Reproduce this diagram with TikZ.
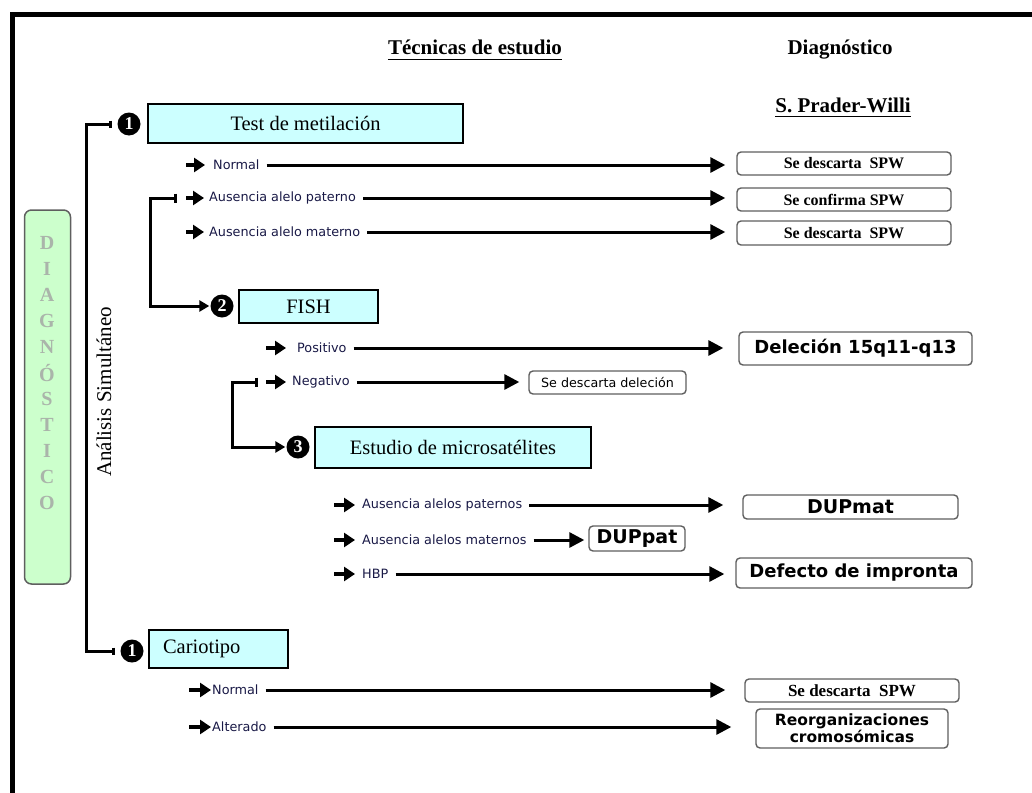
\documentclass[tikz,border=0pt]{standalone}
\usepackage{fontspec}
\setmainfont{Liberation Serif}
\newfontfamily\dv{DejaVu Sans}
\usetikzlibrary{arrows.meta}
\definecolor{cyanbox}{RGB}{204,255,255}
\definecolor{greenbox}{RGB}{204,255,204}
\definecolor{navy}{RGB}{25,25,70}
\definecolor{letter}{RGB}{170,180,170}
\definecolor{rbord}{RGB}{95,95,95}
\begin{document}
\begin{tikzpicture}[x=1pt,y=-1pt,
  tech/.style={draw=black,line width=2pt,fill=cyanbox,inner sep=0pt,font=\fontsize{20.5}{24}\selectfont},
  res/.style={draw=rbord,line width=1.4pt,rounded corners=4pt,fill=white,inner sep=0pt,align=center},
  resT/.style={res,font=\bfseries\fontsize{16}{19}\selectfont},
  resV/.style={res,font=\dv\bfseries\fontsize{18}{21}\selectfont},
  lab/.style={anchor=west,inner sep=0pt,text=navy,font=\dv\fontsize{12.8}{15}\selectfont},
  num/.style={circle,fill=black,text=white,inner sep=0pt,minimum size=23pt,font=\bfseries\fontsize{18}{18}\selectfont},
  conn/.style={line width=3pt,-{Triangle[length=15pt,width=15pt]},shorten <=7pt},
  brk/.style={line width=3pt},
  ico/.style={line width=4pt,-{Triangle[length=11pt,width=14pt]}},
  head/.style={inner sep=0pt,anchor=base,font=\bfseries\fontsize{21}{25}\selectfont},
  ul/.style={line width=1.6pt},
]
\useasboundingbox (0,0) rectangle (1032,792);
\begin{scope}
\clip (0,0) rectangle (1032,792);
\draw[line width=4.5pt] (12.5,14.5) rectangle (1060,820);
\end{scope}

% headers
\node[head] (hT) at (475,55) {Técnicas de estudio};
\draw[ul] ([yshift=-4.5pt]hT.base west) -- ([yshift=-4.5pt]hT.base east);
\node[head] (hD) at (840,55) {Diagnóstico};
\node[head] (hS) at (843,112) {S. Prader-Willi};
\draw[ul] ([yshift=-4.5pt]hS.base west) -- ([yshift=-4.5pt]hS.base east);

% green side box
\node[draw=rbord,line width=1.5pt,fill=greenbox,rounded corners=7pt,minimum width=46pt,minimum height=374pt,inner sep=0pt] (gb) at (47.5,397) {};
\foreach \l [count=\i from 0] in {D,I,A,G,N,Ó,S,T,I,C,O}
  \node[inner sep=0pt,text=letter,font=\bfseries\fontsize{20}{20}\selectfont] (g\i) at (47,243+26*\i) {\l};

% simultaneous analysis
\node[rotate=90,inner sep=0pt,font=\fontsize{21}{25}\selectfont] (as) at (104,392) {Análisis Simultáneo};

% numbers
\node[num] (c1a) at (129,124) {1};
\node[num] (c2) at (222,306) {2};
\node[num] (c3) at (298,447) {3};
\node[num] (c1b) at (132,651) {1};

% technique boxes
\node[tech,minimum width=315pt,minimum height=39pt] (tm) at (305.5,123.5) {Test de metilación};
\node[tech,minimum width=139pt,minimum height=33pt] (fi) at (308.5,306.5) {FISH};
\node[tech,minimum width=276pt,minimum height=41pt] (em) at (453,447.5) {Estudio de microsatélites};
\node[tech,anchor=west,minimum height=38pt,text width=111pt,align=left,inner xsep=14pt] (ca) at (148,649) {Cariotipo};

% top bracket
\draw[brk,{Bar[width=7pt]}-{Bar[width=7pt]},shorten <=5pt,shorten >=5pt] (c1a.west) -- ++(-31,0) |- (c1b.west);

% labels
\node[lab] (l1) at (213,165) {Normal};
\node[lab] (l2) at (209,198) {Ausencia alelo paterno};
\node[lab] (l3) at (209,232) {Ausencia alelo materno};
\node[lab] (l4) at (297,348) {Positivo};
\node[lab] (l5) at (292,382) {Negativo};
\node[lab] (l6) at (362,505) {Ausencia alelos paternos};
\node[lab] (l7) at (362,540) {Ausencia alelos maternos};
\node[lab] (l8) at (362,574) {HBP};
\node[lab] (l9) at (212,690) {Normal};
\node[lab] (l10) at (212,727) {Alterado};

% icons
\draw[ico] ([xshift=-27pt]l1.west) -- ([xshift=-8pt]l1.west);
\draw[ico] ([xshift=-23pt]l2.west) -- ([xshift=-5pt]l2.west);
\draw[ico] ([xshift=-23pt]l3.west) -- ([xshift=-5pt]l3.west);
\draw[ico] ([xshift=-31pt]l4.west) -- ([xshift=-11pt]l4.west);
\draw[ico] ([xshift=-26pt]l5.west) -- ([xshift=-6pt]l5.west);
\draw[ico] ([xshift=-28pt]l6.west) -- ([xshift=-7pt]l6.west);
\draw[ico] ([xshift=-28pt]l7.west) -- ([xshift=-7pt]l7.west);
\draw[ico] ([xshift=-28pt]l8.west) -- ([xshift=-7pt]l8.west);
\draw[ico] ([xshift=-23pt]l9.west) -- ([xshift=-1pt]l9.west);
\draw[ico] ([xshift=-23pt]l10.west) -- ([xshift=-1pt]l10.west);

% result boxes
\node[resT,minimum width=214pt,minimum height=23pt] (r1) at (844,163.5) {Se descarta~~SPW};
\node[resT,minimum width=214pt,minimum height=23pt] (r2) at (844,199.5) {Se confirma SPW};
\node[resT,minimum width=214pt,minimum height=24pt] (r3) at (844,233) {Se descarta~~SPW};
\node[resV,minimum width=233pt,minimum height=33pt] (r4) at (855.5,348.5) {Deleción 15q11-q13};
\node[res,font=\dv\fontsize{12.7}{15}\selectfont,minimum width=157pt,minimum height=23pt] (r5) at (607.5,382.5) {Se descarta deleción};
\node[resV,font=\dv\bfseries\fontsize{19}{22}\selectfont,minimum width=215pt,minimum height=24pt] (r6) at (850.5,507) {DUPmat};
\node[resV,font=\dv\bfseries\fontsize{19}{22}\selectfont,minimum width=96pt,minimum height=25pt] (r7) at (637,538.5) {DUPpat};
\node[resV,minimum width=236pt,minimum height=30pt] (r8) at (854,573) {Defecto de impronta};
\node[resT,font=\bfseries\fontsize{17}{20}\selectfont,minimum width=214pt,minimum height=23pt] (r9) at (852,690.5) {Se descarta~~SPW};
\node[resV,font=\dv\bfseries\fontsize{15.5}{17}\selectfont,minimum width=192pt,minimum height=39pt] (r10) at (852,728.5) {Reorganizaciones\\cromosómicas};

% connectors
\draw[conn,shorten >=11pt] (l1.east) -- (l1.east -| r1.west);
\draw[conn,shorten >=11pt] (l2.east) -- (l2.east -| r2.west);
\draw[conn,shorten >=11pt] (l3.east) -- (l3.east -| r3.west);
\draw[conn,shorten >=15pt] (l4.east) -- (l4.east -| r4.west);
\draw[conn,shorten >=9pt] (l5.east) -- (l5.east -| r5.west);
\draw[conn,shorten >=19pt] (l6.east) -- (l6.east -| r6.west);
\draw[conn,shorten >=4pt] (l7.east) -- (l7.east -| r7.west);
\draw[conn,shorten >=11pt] (l8.east) -- (l8.east -| r8.west);
\draw[conn,shorten >=19pt] (l9.east) -- (l9.east -| r9.west);
\draw[conn,shorten >=24pt] (l10.east) -- (l10.east -| r10.west);

% sub-brackets
\coordinate (tkA) at (177,198);
\coordinate (tkB) at (258,382);
\draw[brk,{Bar[width=9pt]}-{Triangle[length=10pt,width=11pt]},shorten >=1pt] (tkA) -- ++(-27,0) |- (c2.west);
\draw[brk,{Bar[width=9pt]}-{Triangle[length=10pt,width=11pt]},shorten >=1pt] (tkB) -- ++(-26,0) |- (c3.west);
\end{tikzpicture}
\end{document}
